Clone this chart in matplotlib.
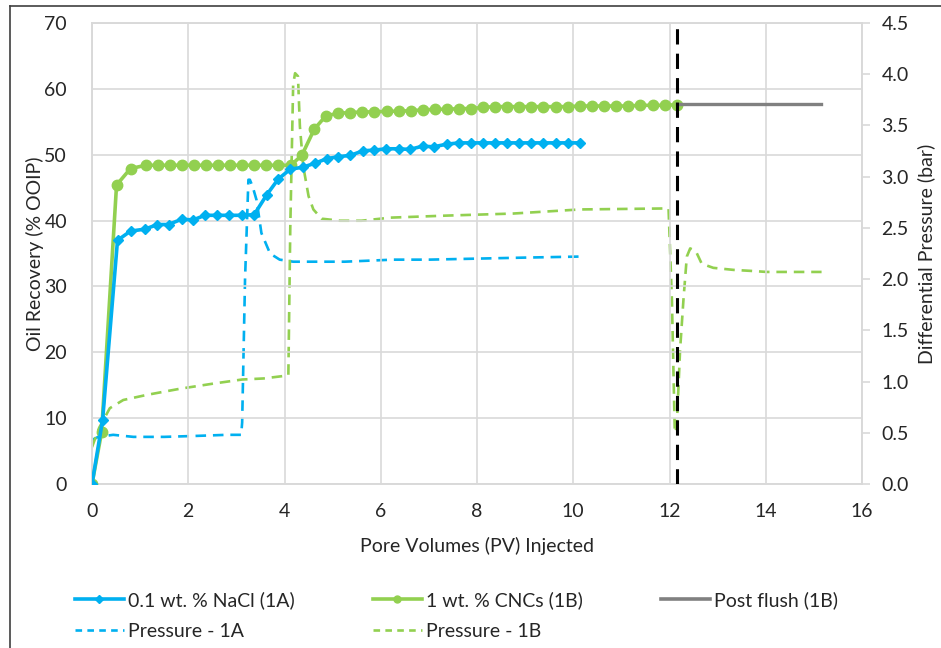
import matplotlib.pyplot as plt
from matplotlib.lines import Line2D

plt.rcParams['font.family'] = ['Lato', 'DejaVu Sans']

# Oil recovery, 0.1 wt.% NaCl (1A)
pv_1a = [0, 0.22, 0.53, 0.80, 1.10, 1.36, 1.59, 1.86, 2.10, 2.35, 2.60, 2.85, 3.12, 3.37,
         3.63, 3.87, 4.12, 4.38, 4.63, 4.88, 5.12, 5.37, 5.63, 5.87, 6.11, 6.37, 6.60,
         6.87, 7.10, 7.37, 7.63, 7.88, 8.13, 8.38, 8.63, 8.88, 9.13, 9.38, 9.64, 9.89, 10.15]
rec_1a = [0, 9.7, 37.0, 38.4, 38.7, 39.4, 39.4, 40.2, 40.1, 40.8, 40.8, 40.8, 40.8, 40.9,
          43.9, 46.3, 47.8, 48.1, 48.7, 49.4, 49.7, 49.9, 50.6, 50.7, 50.9, 50.9, 50.8,
          51.3, 51.2, 51.6, 51.8, 51.8, 51.8, 51.8, 51.8, 51.8, 51.8, 51.8, 51.8, 51.8, 51.8]

# Oil recovery, 1 wt.% CNCs (1B)
pv_1b = [0, 0.20, 0.51, 0.80, 1.12, 1.37, 1.62, 1.87, 2.12, 2.37, 2.62, 2.87, 3.12, 3.37,
         3.62, 3.87, 4.13, 4.36, 4.62, 4.86, 5.12, 5.37, 5.62, 5.87, 6.13, 6.38, 6.63,
         6.88, 7.13, 7.38, 7.63, 7.88, 8.13, 8.38, 8.63, 8.88, 9.13, 9.38, 9.64, 9.89,
         10.14, 10.39, 10.64, 10.89, 11.14, 11.39, 11.65, 11.90, 12.15]
rec_1b = [0, 7.9, 45.4, 47.9, 48.4, 48.4, 48.4, 48.4, 48.4, 48.4, 48.4, 48.4, 48.4, 48.4,
          48.4, 48.4, 48.4, 49.9, 53.9, 55.9, 56.3, 56.4, 56.5, 56.5, 56.6, 56.6, 56.7,
          56.8, 56.9, 56.9, 57.0, 57.0, 57.2, 57.3, 57.3, 57.3, 57.3, 57.3, 57.3, 57.3,
          57.4, 57.4, 57.4, 57.4, 57.4, 57.5, 57.5, 57.5, 57.6]

# Post flush (1B)
pv_post = [12.15, 15.15]
rec_post = [57.65, 57.65]

# Differential pressure 1A
pv_p1a = [0.0, 0.13, 0.44, 0.86, 1.5, 2.2, 2.8, 3.10, 3.12, 3.18, 3.25, 3.28, 3.34, 3.42,
          3.52, 3.70, 3.90, 4.18, 4.55, 5.25, 6.26, 7.0, 8.0, 9.0, 10.13]
p_1a = [0.43, 0.46, 0.48, 0.46, 0.46, 0.47, 0.48, 0.48, 0.60, 2.0, 2.97, 2.97, 2.90, 2.77,
        2.45, 2.25, 2.19, 2.17, 2.17, 2.17, 2.19, 2.19, 2.20, 2.21, 2.22]

# Differential pressure 1B
pv_p1b = [0.0, 0.15, 0.37, 0.65, 1.14, 1.83, 2.52, 3.12, 3.56, 4.08, 4.12, 4.18, 4.22,
          4.28, 4.32, 4.39, 4.50, 4.60, 4.77, 5.15, 5.60, 6.20, 7.37, 8.75, 10.14, 11.98,
          12.05, 12.11, 12.15, 12.22, 12.29, 12.36, 12.43, 12.55, 12.67, 12.91, 13.33,
          13.70, 14.02, 14.50, 15.16]
p_1b = [0.36, 0.55, 0.74, 0.82, 0.87, 0.93, 0.98, 1.02, 1.03, 1.06, 2.5, 3.9, 4.01,
        3.98, 3.49, 3.10, 2.81, 2.68, 2.59, 2.57, 2.57, 2.60, 2.62, 2.64, 2.68, 2.69,
        1.8, 0.50, 0.55, 1.31, 1.80, 2.22, 2.30, 2.27, 2.15, 2.11, 2.09, 2.08, 2.07,
        2.07, 2.07]

x_ticks = [0, 2, 4, 6, 8, 10, 12, 14, 16]
flush_pv = 12.15

BLUE = '#00B0F0'
GREEN = '#92D050'
GRAY = '#808080'
GRID = '#D9D9D9'
TXT = '#262626'
FS = 14

fig = plt.figure(figsize=(9.41, 6.48), dpi=100)
ax = fig.add_axes([92 / 941, 1 - 484 / 648, (862 - 92) / 941, (484 - 23) / 648])
ax2 = ax.twinx()

ax.set_xlim(0, 16)
ax.set_ylim(0, 70)
ax2.set_ylim(0, 4.5)
ax.set_xticks(x_ticks)
ax.set_yticks(range(0, 71, 10))
ax2.set_yticks([i * 0.5 for i in range(10)])
ax2.set_yticklabels([f'{i * 0.5:.1f}' for i in range(10)])

ax.grid(True, color=GRID, linewidth=1.2)
ax.set_axisbelow(True)
for a in (ax, ax2):
    for s in a.spines.values():
        s.set_color(GRID)
        s.set_linewidth(1.2)
ax.tick_params(axis='x', length=0, labelsize=FS, colors=TXT, pad=14)
ax.tick_params(axis='y', length=0, labelsize=FS, colors=TXT, pad=18)
ax2.tick_params(axis='y', length=6, color=GRID, width=1.2, labelsize=FS, labelcolor=TXT, pad=8)

# pressure curves on secondary axis
dash = (0, (4, 2.6))
ax2.plot(pv_p1a, p_1a, color=BLUE, lw=1.9, ls=dash, zorder=2)
ax2.plot(pv_p1b, p_1b, color=GREEN, lw=1.9, ls=dash, zorder=2)

# recovery curves drawn on top
ax.set_zorder(ax2.get_zorder() + 1)
ax.patch.set_visible(False)
ax.plot(pv_1a, rec_1a, color=BLUE, lw=2.6, marker='D', ms=5.5, zorder=4)
ax.plot(pv_1b, rec_1b, color=GREEN, lw=2.6, marker='o', ms=7.5, zorder=3)
ax.plot(pv_post, rec_post, color=GRAY, lw=2.4, zorder=3)
ax.axvline(flush_pv, color='black', lw=2.2, ls=(0, (5, 3)), zorder=5)

ax.set_xlabel('Pore Volumes (PV) Injected', fontsize=FS, color=TXT, labelpad=12)
ax.set_ylabel('Oil Recovery (% OOIP)', fontsize=FS, color=TXT, labelpad=0)
ax2.set_ylabel('Differential Pressure (bar)', fontsize=FS, color=TXT, labelpad=6)

handles = [
    Line2D([], [], color=BLUE, lw=2.6, marker='D', ms=4),
    Line2D([], [], color=BLUE, lw=1.9, ls=(0, (2.5, 2))),
    Line2D([], [], color=GREEN, lw=2.6, marker='o', ms=5),
    Line2D([], [], color=GREEN, lw=1.9, ls=(0, (2.5, 2))),
    Line2D([], [], color=GRAY, lw=2.6),
]
labels = ['0.1 wt. % NaCl (1A)', 'Pressure - 1A', '1 wt. % CNCs (1B)',
          'Pressure - 1B', 'Post flush (1B)']
leg = fig.legend(handles, labels, ncol=3, loc='upper left',
                 bbox_to_anchor=(75 / 941, 1 - 591 / 648), frameon=False,
                 fontsize=FS, handlelength=2.5, handletextpad=0.2,
                 columnspacing=4.05, labelspacing=0.72, borderaxespad=0, borderpad=0)
for t in leg.get_texts():
    t.set_color(TXT)

# outer frame lines (top and left)
fig.add_artist(Line2D([10 / 941, 1], [1 - 6 / 648, 1 - 6 / 648], color='#404040', lw=1.2,
                      transform=fig.transFigure))
fig.add_artist(Line2D([10 / 941, 10 / 941], [0, 1 - 6 / 648], color='#404040', lw=1.2,
                      transform=fig.transFigure))

fig.savefig('out.png', dpi=100)
